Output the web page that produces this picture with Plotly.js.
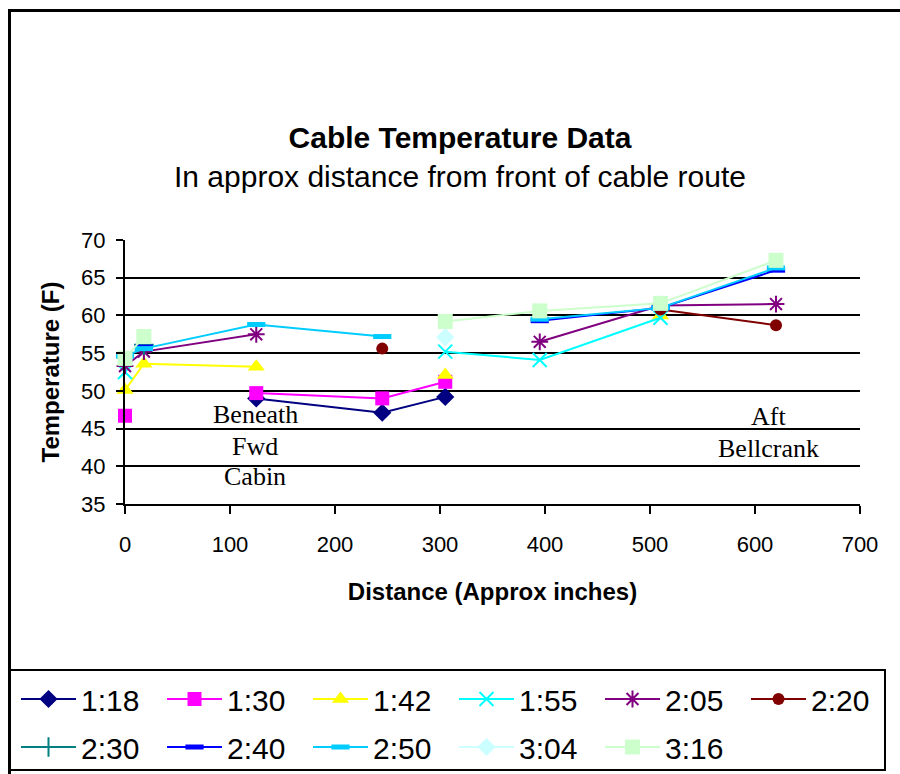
<!DOCTYPE html>
<html>
<head>
<meta charset="utf-8">
<script src="https://cdn.plot.ly/plotly-3.0.1.min.js"></script>
<style>
html,body{margin:0;padding:0;background:#fff;overflow:hidden;}
#wrap{position:relative;width:900px;height:774px;overflow:hidden;}
#chart{width:900px;height:774px;}
#frame{position:absolute;left:8px;top:9px;width:1000px;height:1000px;border-top:3px solid #000;border-left:3px solid #000;pointer-events:none;}
</style>
</head>
<body>
<div id="wrap"><div id="chart"></div><div id="frame"></div></div>
<script>
// Distances (approx inches) at which readings were taken
const distances = [0, 18, 125, 245, 305, 395, 510, 620];

// Series names (time of reading)
const seriesNames = ["1:18", "1:30", "1:42", "1:55", "2:05", "2:20", "2:30", "2:40", "2:50", "3:04", "3:16"];

// Temperatures (F); null = no reading
const t118 = [null, null, 49.0, 47.1, 49.2, null, null, null];
const t130 = [46.7, null, 49.7, 49.0, 51.2, null, null, null];
const t142 = [50.1, 53.6, 53.2, null, 52.1, null, 60.0, null];
const t155 = [52.5, null, null, null, 55.2, 54.1, 59.7, null];
const t205 = [53.3, 55.2, 57.5, null, null, 56.5, 61.3, 61.5];
const t220 = [null, 56.1, null, 55.6, null, null, 60.8, 58.7];
const t230 = [null, 56.1, null, null, null, null, null, null];
const t240 = [null, 55.8, null, null, null, 59.3, 61.0, 66.0];
const t250 = [54.6, 55.6, 58.8, 57.2, null, 59.5, 61.0, 66.3];
const t304 = [null, null, null, null, 57.1, null, null, null];
const t316 = [54.3, 57.2, null, null, 59.2, 60.6, 61.6, 67.3];

const seriesValues = [t118, t130, t142, t155, t205, t220, t230, t240, t250, t304, t316];

// Axis tick labels
const xTicks = [0, 100, 200, 300, 400, 500, 600, 700];
const yTicks = [35, 40, 45, 50, 55, 60, 65, 70];

// Plot annotations
const notesLeft = ["Beneath", "Fwd", "Cabin"];
const notesRight = ["Aft", "Bellcrank"];

// Styles
const styles = [
  {color: "#000080", symbol: "diamond", size: 14},
  {color: "#FF00FF", symbol: "square", size: 14},
  {color: "#FFFF00", symbol: "triangle-up", size: 15},
  {color: "#00FFFF", symbol: "x-thin-open", size: 14},
  {color: "#800080", symbol: "asterisk-open", size: 14},
  {color: "#800000", symbol: "circle", size: 12},
  {color: "#008080", symbol: "cross-thin-open", size: 14},
  {color: "#0000FF", symbol: "line-ew-open", size: 13},
  {color: "#00CCFF", symbol: "line-ew-open", size: 13},
  {color: "#CCFFFF", symbol: "diamond", size: 14},
  {color: "#CCFFCC", symbol: "square", size: 15}
];

// legend rows: first five, then 2:20 in the sixth column, then second row
const legendOf = i => (i < 5 ? "legend" : (i === 5 ? "legend3" : "legend2"));

const traces = seriesNames.map((name, i) => {
  const s = styles[i];
  const open = s.symbol.indexOf("open") >= 0;
  return {
    type: "scatter",
    mode: "lines+markers",
    name: name,
    x: distances,
    y: seriesValues[i],
    connectgaps: false,
    cliponaxis: false,
    legend: legendOf(i),
    line: {color: s.color, width: 2},
    marker: {
      color: s.color,
      symbol: s.symbol,
      size: s.size,
      line: {color: s.color, width: open ? (s.symbol.indexOf("line") === 0 ? 5 : 2) : 0}
    }
  };
});

// layout helpers (pixel -> paper)
const L = 125, R = 40, T = 240, B = 270, W = 900, H = 774;
const pw = W - L - R, ph = H - T - B;
const px = v => (v - L) / pw;
const py = v => (H - B - v) / ph;

const legendCommon = {
  orientation: "h",
  xref: "container", yref: "container",
  xanchor: "left", yanchor: "top",
  font: {family: "Liberation Sans, Arial, sans-serif", size: 30, color: "#000"},
  bgcolor: "rgba(0,0,0,0)",
  borderwidth: 0,
  itemwidth: 55,
  entrywidth: 76,
  traceorder: "normal"
};

const serifFont = {family: "Liberation Serif, Times New Roman, serif", size: 26, color: "#000"};
const noteAnn = (text, x, pyPix) => ({
  text: text, x: x, xref: "x", y: py(pyPix), yref: "paper",
  showarrow: false, xanchor: "center", yanchor: "middle", font: serifFont
});

const layout = {
  width: W, height: H,
  margin: {l: L, r: R, t: T, b: B, pad: 0},
  paper_bgcolor: "#fff",
  plot_bgcolor: "#fff",
  font: {family: "Liberation Sans, Arial, sans-serif", color: "#000"},
  showlegend: true,
  title: {
    text: "<b>Cable Temperature Data</b><br><span style='font-size:30px'>In approx distance from front of cable route</span>",
    font: {size: 30, color: "#000"},
    xref: "container", yref: "container",
    x: 460 / W, xanchor: "center",
    y: 1 - 148 / H, yanchor: "middle"
  },
  xaxis: {
    range: [0, 700],
    tickvals: xTicks,
    ticktext: xTicks.map(String),
    showgrid: false, zeroline: false,
    showline: true, linecolor: "#000", linewidth: 2,
    ticks: "outside", ticklen: 8, tickwidth: 2, tickcolor: "#000",
    ticklabelstandoff: 12,
    tickfont: {size: 22, color: "#000"},
    title: {text: "<b>Distance (Approx inches)</b>", font: {size: 24, color: "#000"}, standoff: 27}
  },
  yaxis: {
    range: [35, 70],
    tickvals: yTicks,
    ticktext: yTicks.map(String),
    showgrid: true, gridcolor: "#000", gridwidth: 2,
    zeroline: false,
    showline: true, linecolor: "#000", linewidth: 2,
    ticks: "outside", ticklen: 7, tickwidth: 2, tickcolor: "#000",
    ticklabelstandoff: 6,
    tickfont: {size: 22, color: "#000"},
    title: {text: "<b>Temperature (F)</b>", font: {size: 24, color: "#000"}, standoff: 15}
  },
  legend: Object.assign({}, legendCommon, {x: 16 / W, y: 1 - 673 / H}),
  legend3: Object.assign({}, legendCommon, {x: (16 + 5 * 146) / W, y: 1 - 673 / H}),
  legend2: Object.assign({}, legendCommon, {x: 16 / W, y: 1 - 721 / H}),
  annotations: [
    noteAnn(notesLeft[0], 124, 414),
    noteAnn(notesLeft[1], 124, 446),
    noteAnn(notesLeft[2], 124, 476),
    noteAnn(notesRight[0], 613, 416),
    noteAnn(notesRight[1], 613, 448)
  ],
  shapes: [
    {type: "rect", xref: "paper", yref: "paper", x0: px(9), x1: px(885), y0: py(670), y1: py(770),
     line: {color: "#000", width: 2}, fillcolor: "rgba(0,0,0,0)", layer: "above"}
  ]
};

Plotly.newPlot("chart", traces, layout, {displayModeBar: false, staticPlot: true});
</script>
</body>
</html>
